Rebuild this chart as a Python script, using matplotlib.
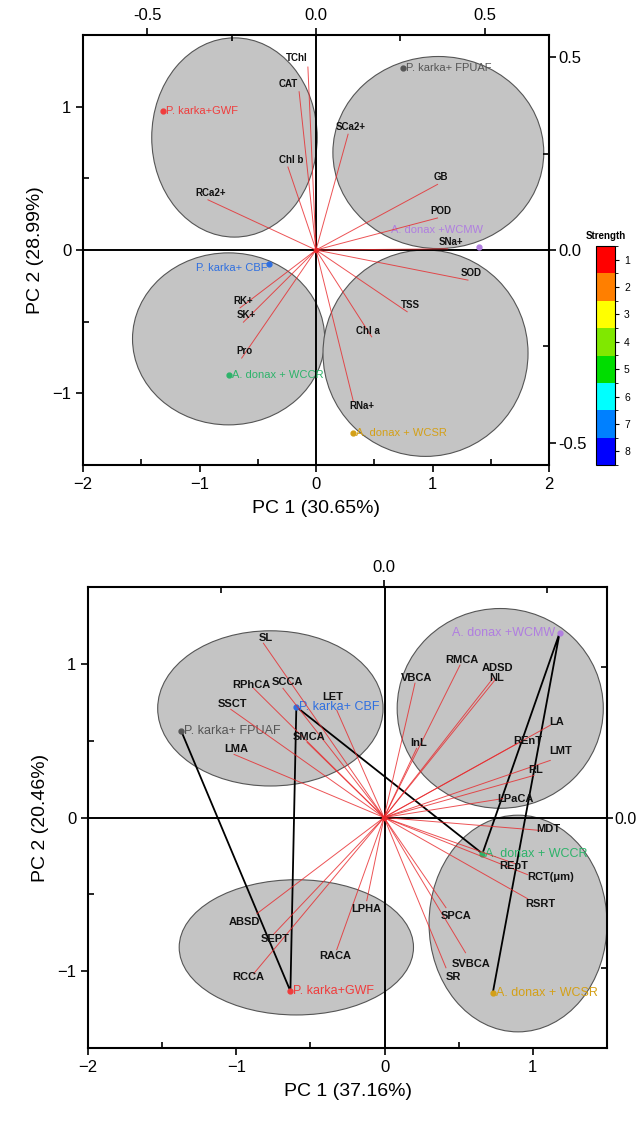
import numpy as np
import matplotlib
matplotlib.use('Agg')
import matplotlib.pyplot as plt
from matplotlib.patches import Ellipse
from matplotlib.colors import ListedColormap, BoundaryNorm
from matplotlib.cm import ScalarMappable
from matplotlib.ticker import FixedLocator

plt.rcParams['font.family'] = ['Liberation Sans', 'DejaVu Sans']

# ---- top biplot (PC1 30.65%, PC2 28.99%) ----
top_groups = ['P. karka+GWF', 'P. karka+ FPUAF', 'A. donax +WCMW',
              'P. karka+ CBF', 'A. donax + WCCR', 'A. donax + WCSR']
top_pc1 = [-1.31, 0.75, 1.40, -0.40, -0.75, 0.32]
top_pc2 = [0.97, 1.27, 0.02, -0.10, -0.87, -1.28]

top_vars = ['TChl', 'CAT', 'Chl b', 'RCa2+', 'SCa2+', 'GB', 'POD', 'SNa+',
            'SOD', 'TSS', 'Chl a', 'RNa+', 'RK+', 'SK+', 'Pro']
top_load1 = [-0.024, -0.05, -0.083, -0.32, 0.095, 0.36, 0.36, 0.39,
             0.45, 0.27, 0.165, 0.11, -0.225, -0.215, -0.22]
top_load2 = [0.474, 0.41, 0.215, 0.13, 0.30, 0.17, 0.083, 0.003,
             -0.078, -0.16, -0.225, -0.39, -0.15, -0.187, -0.28]

# ---- bottom biplot (PC1 37.16%, PC2 20.46%) ----
bot_groups = ['P. karka+ CBF', 'P. karka+ FPUAF', 'A. donax +WCMW',
              'A. donax + WCCR', 'A. donax + WCSR', 'P. karka+GWF']
bot_pc1 = [-0.595, -1.37, 1.18, 0.66, 0.73, -0.635]
bot_pc2 = [0.72, 0.56, 1.20, -0.235, -1.14, -1.13]
bot_path = ['P. karka+ FPUAF', 'P. karka+GWF', 'P. karka+ CBF',
            'A. donax + WCCR', 'A. donax +WCMW', 'A. donax + WCSR']

bot_vars = ['SL', 'SCCA', 'RPhCA', 'SSCT', 'LET', 'SMCA', 'LMA',
            'VBCA', 'RMCA', 'ADSD', 'NL', 'InL', 'LA', 'REnT', 'LMT', 'RL',
            'LPaCA', 'MDT', 'REpT', 'RCT(μm)', 'RSRT', 'SPCA', 'SVBCA', 'SR',
            'LPHA', 'RACA', 'ABSD', 'SEPT', 'RCCA']
bot_load1 = [-0.37, -0.31, -0.40, -0.47, -0.145, -0.236, -0.46,
             0.095, 0.233, 0.334, 0.34, 0.10, 0.51, 0.41, 0.51, 0.46,
             0.365, 0.48, 0.40, 0.44, 0.44, 0.19, 0.25, 0.19,
             -0.053, -0.145, -0.39, -0.34, -0.40]
bot_load2 = [0.58, 0.43, 0.43, 0.36, 0.357, 0.25, 0.21,
             0.447, 0.507, 0.463, 0.457, 0.23, 0.307, 0.247, 0.19, 0.14,
             0.063, -0.043, -0.153, -0.19, -0.27, -0.30, -0.45, -0.50,
             -0.277, -0.44, -0.32, -0.39, -0.52]

strength_levels = [1, 2, 3, 4, 5, 6, 7, 8]
strength_colors = ['#ff0000', '#ff7f00', '#ffff00', '#80e800',
                   '#00dd00', '#00ffff', '#0080ff', '#0000ff']

group_colors = {'P. karka+GWF': '#f03c3c', 'P. karka+ FPUAF': '#555555',
                'A. donax +WCMW': '#b07ee0', 'P. karka+ CBF': '#2f6fe0',
                'A. donax + WCCR': '#2db36a', 'A. donax + WCSR': '#d4a017'}

ELL_FC = '#c4c4c4'
ELL_EC = '#555555'
VEC = '#e8282b'


def style_main(ax, xlim, ylim, xmaj, xmin, ymaj, ymin):
    ax.set_xlim(*xlim)
    ax.set_ylim(*ylim)
    ax.xaxis.set_major_locator(FixedLocator(xmaj))
    ax.xaxis.set_minor_locator(FixedLocator(xmin))
    ax.yaxis.set_major_locator(FixedLocator(ymaj))
    ax.yaxis.set_minor_locator(FixedLocator(ymin))
    ax.tick_params(which='major', direction='out', length=5, width=1.2, labelsize=12)
    ax.tick_params(which='minor', direction='in', length=4, width=1.2)
    for s in ax.spines.values():
        s.set_linewidth(1.5)
    ax.axhline(0, color='k', lw=1.4, zorder=2)
    ax.axvline(0, color='k', lw=1.4, zorder=2)


def style_load(ax2, xlim, ylim, xmaj, xmin, ymaj, ymin):
    ax2.patch.set_visible(False)
    for s in ax2.spines.values():
        s.set_visible(False)
    ax2.set_xlim(*xlim)
    ax2.set_ylim(*ylim)
    ax2.xaxis.tick_top()
    ax2.yaxis.tick_right()
    ax2.xaxis.set_major_locator(FixedLocator(xmaj))
    ax2.xaxis.set_minor_locator(FixedLocator(xmin))
    ax2.yaxis.set_major_locator(FixedLocator(ymaj))
    ax2.yaxis.set_minor_locator(FixedLocator(ymin))
    ax2.tick_params(which='major', direction='out', length=5, width=1.2, labelsize=12)
    ax2.tick_params(which='minor', direction='in', length=4, width=1.2)
    ax2.tick_params(axis='y', pad=2)
    ax2.xaxis.set_major_formatter(plt.FormatStrFormatter('%.1f'))
    ax2.yaxis.set_major_formatter(plt.FormatStrFormatter('%.1f'))


def draw_vectors(ax2, names, l1, l2, offsets, default, fs):
    for n, a, b in zip(names, l1, l2):
        ax2.plot([0, a], [0, b], color=VEC, lw=0.7, alpha=0.8, zorder=3)
        dx, dy = offsets.get(n, default)
        ax2.annotate(n, (a, b), xytext=(dx, dy), textcoords='offset pixels',
                     ha='center', va='center', fontsize=fs, fontweight='bold',
                     color='#111111', zorder=5)
    ax2.plot(0, 0, 'o', color=VEC, ms=3, zorder=4)


def draw_groups(ax, names, x, y, places, fs):
    for n, a, b in zip(names, x, y):
        c = group_colors[n]
        ax.plot(a, b, 'o', color=c, ms=3.5, zorder=6)
        ha, dx, dy = places.get(n, ('left', 3, 0))
        ax.annotate(n, (a, b), xytext=(dx, dy), textcoords='offset pixels',
                    ha=ha, va='center', fontsize=fs, color=c, zorder=6)


fig = plt.figure(figsize=(6.39, 11.23), dpi=100)

# ================= top panel =================
pos1 = [83 / 639, 1 - 465 / 1123, 466 / 639, 430 / 1123]
ax = fig.add_axes(pos1)
style_main(ax, (-2, 2), (-1.5, 1.5), [-2, -1, 0, 1, 2], [-1.5, -0.5, 0.5, 1.5],
           [-1, 0, 1], [-0.5, 0.5])
for cx, cy, w, h in [(-0.70, 0.785, 1.42, 1.39), (1.05, 0.68, 1.81, 1.34),
                     (-0.75, -0.62, 1.65, 1.20), (0.94, -0.72, 1.76, 1.44)]:
    ax.add_patch(Ellipse((cx, cy), w, h, fc=ELL_FC, ec=ELL_EC, lw=0.8, zorder=1))
ax.set_xlabel('PC 1 (30.65%)', fontsize=14, labelpad=6)
ax.set_ylabel('PC 2 (28.99%)', fontsize=14, labelpad=6)

ax2 = fig.add_axes(pos1)
style_load(ax2, (-0.69, 0.69), (-0.557, 0.557), [-0.5, 0, 0.5], [-0.25, 0.25],
           [-0.5, 0, 0.5], [-0.25, 0.25])
top_off = {'TChl': (-11, 9), 'CAT': (-11, 8), 'RNa+': (9, -5), 'Chl a': (-4, 6)}
draw_vectors(ax2, top_vars, top_load1, top_load2, top_off, (3, 7), 7)
draw_groups(ax, top_groups, top_pc1, top_pc2,
            {'P. karka+ CBF': ('right', -2, -4),
             'A. donax +WCMW': ('right', 4, 17)}, 8)

# colour scale
cax = fig.add_axes([596 / 639, 1 - 465 / 1123, 19 / 639, 219 / 1123])
cmap = ListedColormap(strength_colors)
norm = BoundaryNorm(np.arange(0.5, 9.5, 1), cmap.N)
cb = fig.colorbar(ScalarMappable(norm=norm, cmap=cmap), cax=cax, ticks=strength_levels)
cax.invert_yaxis()
cax.tick_params(labelsize=7.5, length=3, width=0.8)
cb.outline.set_linewidth(0.8)
cax.set_title('Strength', fontsize=7, fontweight='bold', pad=5)

# ================= bottom panel =================
pos2 = [88 / 639, 1 - 1048 / 1123, 519 / 639, 461 / 1123]
bx = fig.add_axes(pos2)
style_main(bx, (-2, 1.5), (-1.5, 1.5), [-2, -1, 0, 1], [-1.5, -0.5, 0.5],
           [-1, 0, 1], [-0.5, 0.5])
for cx, cy, w, h in [(-0.77, 0.71, 1.52, 1.01), (0.78, 0.71, 1.39, 1.30),
                     (-0.595, -0.845, 1.58, 0.88), (0.90, -0.69, 1.20, 1.41)]:
    bx.add_patch(Ellipse((cx, cy), w, h, fc=ELL_FC, ec=ELL_EC, lw=0.8, zorder=1))
bx.set_xlabel('PC 1 (37.16%)', fontsize=14, labelpad=6)
bx.set_ylabel('PC 2 (20.46%)', fontsize=14, labelpad=6)

# connecting path between group centroids
gx = dict(zip(bot_groups, bot_pc1))
gy = dict(zip(bot_groups, bot_pc2))
bx.plot([gx[g] for g in bot_path], [gy[g] for g in bot_path],
        color='k', lw=1.3, zorder=4)

bx2 = fig.add_axes(pos2)
style_load(bx2, (-0.908, 0.684), (-0.767, 0.767), [0], [-0.5, 0.5],
           [0], [-0.5, 0.5])
bx2.tick_params(axis='y', labelsize=11.5, length=4, pad=1.5)
bot_off = {'LET': (-4, 13), 'ADSD': (5, 10), 'NL': (2, 2), 'REnT': (10, 2),
           'LMT': (10, 9), 'SCCA': (4, 6), 'RPhCA': (-2, 3),
           'LA': (6, 3), 'LPaCA': (12, 0), 'MDT': (8, 1), 'REpT': (-1, -3),
           'RCT(μm)': (23, -2), 'RSRT': (13, -5), 'SPCA': (10, -8),
           'SVBCA': (6, -11), 'SR': (7, -9), 'LPHA': (0, -8), 'RACA': (-1, -6),
           'ABSD': (-12, -8), 'SEPT': (2, -4), 'RCCA': (-5, -3)}
draw_vectors(bx2, bot_vars, bot_load1, bot_load2, bot_off, (2, 5), 8)
draw_groups(bx, bot_groups, bot_pc1, bot_pc2,
            {'A. donax +WCMW': ('right', -4, 0)}, 9)

plt.savefig('out.png', dpi=100)
